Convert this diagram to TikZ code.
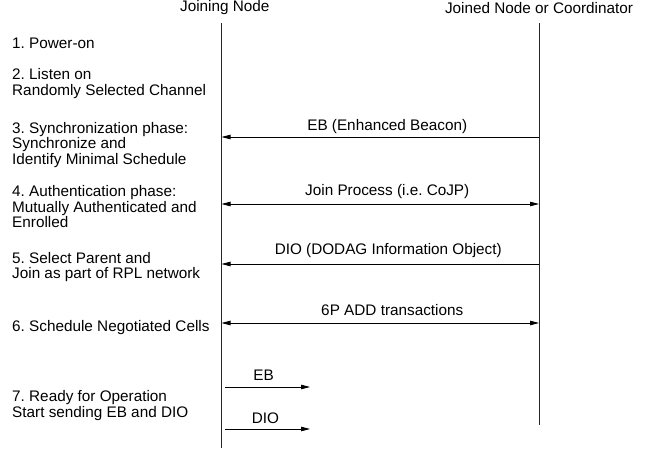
\documentclass[tikz,border=0pt]{standalone}
\usepackage{fontspec}
\setmainfont{Liberation Sans}
\usetikzlibrary{positioning,arrows.meta,calc}
\frenchspacing

\begin{document}
\begin{tikzpicture}[
  x=1pt, y=-1pt,
  every node/.style={font=\fontsize{15.3}{15.6}\selectfont, inner sep=0pt},
  % column headers above the two lifelines
  party/.style={anchor=center},
  % step descriptions in the left column
  stepbox/.style={anchor=north west, align=left},
  lifeline/.style={line width=0.9pt, draw=black!85},
  arr/.style={-{Triangle[length=9pt, width=4.5pt]}, line width=0.8pt, draw=black},
  arrboth/.style={{Triangle[length=9pt, width=4.5pt]}-{Triangle[length=9pt, width=4.5pt]}, line width=0.8pt, draw=black},
  arrlabel/.style={anchor=center}
]
\useasboundingbox (0,0) rectangle (648,450);

% x positions of the two lifelines
\def\joinx{221.5}
\def\coordx{539}

\node[party] (joining) at (224.8,7.5) {Joining Node};
\node[party] (joined) at (539,8) {Joined Node or Coordinator};

\coordinate (jtop) at (\joinx,23);
\coordinate (jbot) at (\joinx,448);
\coordinate (ctop) at (\coordx,23);
\coordinate (cbot) at (\coordx,425);

\draw[lifeline] (jtop) -- (jbot);
\draw[lifeline] (ctop) -- (cbot);

% steps on the joining side
\node[stepbox] (step1) at (12,37.5) {1. Power-on};
\node[stepbox] (step2) at (12,68.5) {2. Listen on\\Randomly Selected Channel};
\node[stepbox] (step3) at (12,122) {3. Synchronization phase:\\Synchronize and\\Identify Minimal Schedule};
\node[stepbox] (step4) at (12,185.5) {4. Authentication phase:\\Mutually Authenticated and\\Enrolled};
\node[stepbox] (step5) at (12,252) {5. Select Parent and\\Join as part of RPL network};
\node[stepbox] (step6) at (12,320.5) {6. Schedule Negotiated Cells};
\node[stepbox] (step7) at (12,390.5) {7. Ready for Operation\\Start sending EB and DIO};

% message end points on both lifelines
\foreach \msg/\y in {eb/137, join/204, dio/264, sixp/323}{
  \coordinate (\msg-j) at (\joinx,\y);
  \coordinate (\msg-c) at (\coordx,\y);
}
\coordinate (ebout-s) at (225,387);
\coordinate (ebout-e) at (310,387);
\coordinate (dioout-s) at (225,429);
\coordinate (dioout-e) at (310,429);

\draw[arr] (eb-c) -- (eb-j);
\node[arrlabel] (eblabel) at ($(eb-j)!0.5!(eb-c)+(7,-10)$) {EB (Enhanced Beacon)};

\draw[arrboth] (join-j) -- (join-c);
\node[arrlabel] (joinlabel) at ($(join-j)!0.5!(join-c)+(7,-12)$) {Join Process (i.e. CoJP)};

\draw[arr] (dio-c) -- (dio-j);
\node[arrlabel] (diolabel) at ($(dio-j)!0.5!(dio-c)+(8,-13)$) {DIO (DODAG Information Object)};

\draw[arrboth] (sixp-j) -- (sixp-c);
\node[arrlabel] (sixplabel) at ($(sixp-j)!0.5!(sixp-c)+(12,-13)$) {6P ADD transactions};

% outgoing frames once operational
\draw[arr] (ebout-s) -- (ebout-e);
\node[arrlabel] (eboutlabel) at ($(ebout-s)!0.5!(ebout-e)+(-4,-12)$) {EB};
\draw[arr] (dioout-s) -- (dioout-e);
\node[arrlabel] (dioutlabel) at ($(dioout-s)!0.5!(dioout-e)+(-2,-11)$) {DIO};

\end{tikzpicture}
\end{document}
